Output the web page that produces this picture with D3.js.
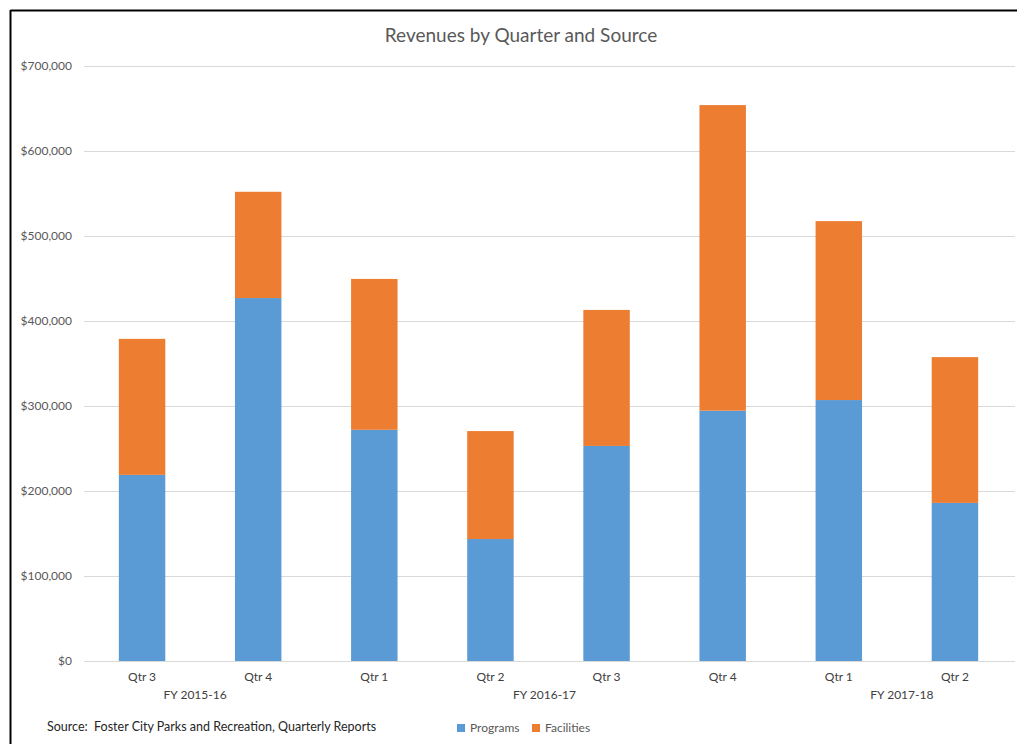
<!DOCTYPE html>
<html>
<head>
<meta charset="utf-8">
<script src="https://cdn.jsdelivr.net/npm/d3@7"></script>
<style>
  html, body { margin: 0; padding: 0; background: #fff; }
  svg { display: block; font-family: Lato, "Open Sans", sans-serif; }
</style>
</head>
<body>
<svg id="chart" width="1017" height="744"></svg>
<script>
const quarters = ["Qtr 3", "Qtr 4", "Qtr 1", "Qtr 2", "Qtr 3", "Qtr 4", "Qtr 1", "Qtr 2"];
const fiscalYears = [
  { label: "FY 2015-16", start: 0, end: 1 },
  { label: "FY 2016-17", start: 2, end: 5 },
  { label: "FY 2017-18", start: 6, end: 7 }
];
const programs   = [219000, 427000, 272000, 143500, 253000, 294500, 307000, 186000];
const facilities = [160000, 125000, 177500, 127000, 160000, 359500, 210500, 171500];
const yTicks = [0, 100000, 200000, 300000, 400000, 500000, 600000, 700000];
const seriesNames = ["Programs", "Facilities"];
const colors = ["#5B9BD5", "#ED7D31"];

const svg = d3.select("#chart");

// frame lines (top and left)
svg.append("line").attr("x1", 10.5).attr("x2", 1017).attr("y1", 10.5).attr("y2", 10.5)
  .attr("stroke", "#000").attr("stroke-width", 2);
svg.append("line").attr("x1", 10.5).attr("x2", 10.5).attr("y1", 10).attr("y2", 744)
  .attr("stroke", "#000").attr("stroke-width", 2);

const margin = { left: 84, right: 1013, top: 66, bottom: 661 };
const idx = quarters.map((q, i) => i);
const x = d3.scaleBand().domain(idx).range([margin.left, margin.right]).paddingInner(0.6).paddingOuter(0.3);
const y = d3.scaleLinear().domain([0, 700000]).range([margin.bottom, margin.top]);

// title
svg.append("text").attr("x", 521).attr("y", 42).attr("text-anchor", "middle")
  .attr("font-size", 19).attr("fill", "#595959").text("Revenues by Quarter and Source");

// gridlines
svg.append("g").selectAll("line").data(yTicks).join("line")
  .attr("x1", margin.left).attr("x2", 1015)
  .attr("y1", d => Math.round(y(d)) + 0.5).attr("y2", d => Math.round(y(d)) + 0.5)
  .attr("stroke", "#D9D9D9").attr("stroke-width", 1);

// y axis labels
const yAxis = d3.axisLeft(y).tickValues(yTicks).tickSize(0).tickPadding(0)
  .tickFormat(d => "$" + d3.format(",")(d));
const yg = svg.append("g").attr("transform", `translate(72,0)`).call(yAxis);
yg.select(".domain").remove();
yg.selectAll("text").attr("font-size", 12).attr("fill", "#595959").attr("font-family", "Lato, 'Open Sans', sans-serif");

// stacked bars
const data = idx.map(i => ({ i, Programs: programs[i], Facilities: facilities[i] }));
const stack = d3.stack().keys(seriesNames)(data);
svg.append("g").selectAll("g").data(stack).join("g")
  .attr("fill", (d, k) => colors[k])
  .selectAll("rect").data(d => d).join("rect")
  .attr("x", d => x(d.data.i))
  .attr("width", x.bandwidth())
  .attr("y", d => y(d[1]))
  .attr("height", d => y(d[0]) - y(d[1]));

// x axis quarter labels
const xAxis = d3.axisBottom(x).tickSize(0).tickPadding(0).tickFormat(i => quarters[i]);
const xg = svg.append("g").attr("transform", `translate(0,672)`).call(xAxis);
xg.select(".domain").remove();
xg.selectAll("text").attr("font-size", 12).attr("fill", "#404040").attr("font-family", "Lato, 'Open Sans', sans-serif");

// fiscal year labels (slight per-group nudges to match the source layout)
const fyNudge = [-5, -4, 5];
svg.append("g").selectAll("text").data(fiscalYears).join("text")
  .attr("x", (d, k) => (x(d.start) + x(d.end) + x.bandwidth()) / 2 + fyNudge[k])
  .attr("y", 699).attr("text-anchor", "middle")
  .attr("font-size", 12).attr("fill", "#404040").text(d => d.label);

// source note
svg.append("text").attr("x", 47).attr("y", 731).attr("font-size", 12.5).attr("fill", "#262626")
  .style("white-space", "pre")
  .text("Source:  Foster City Parks and Recreation, Quarterly Reports");

// legend
const legend = svg.append("g").selectAll("g").data(seriesNames).join("g")
  .attr("transform", (d, k) => `translate(${[457, 532][k]},723)`);
legend.append("rect").attr("width", 8).attr("height", 8).attr("y", 1).attr("fill", (d, k) => colors[k]);
legend.append("text").attr("x", 13).attr("y", 9).attr("font-size", 12).attr("fill", "#595959").text(d => d);
</script>
</body>
</html>
